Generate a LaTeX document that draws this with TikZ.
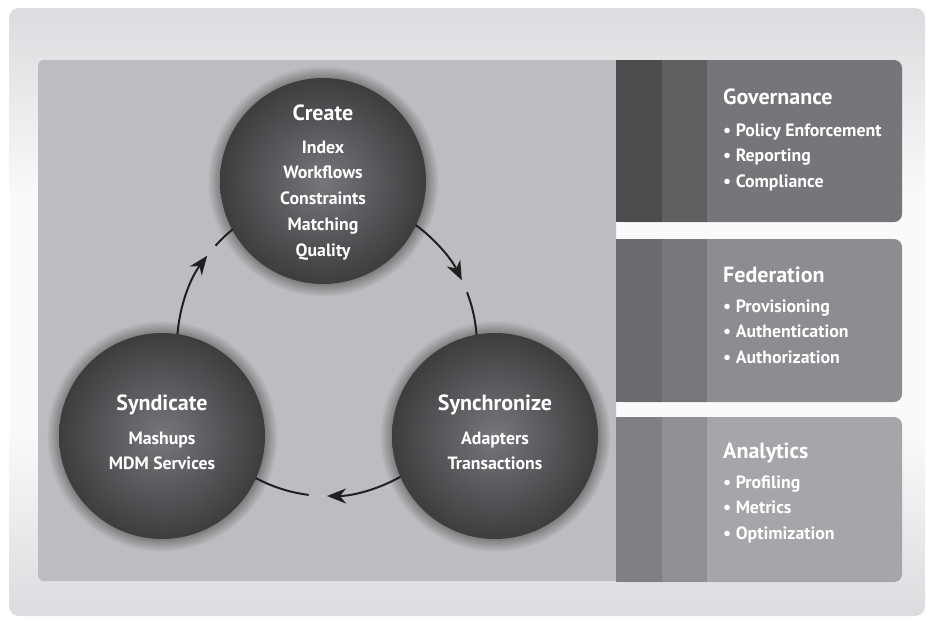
\documentclass[tikz,border=0pt]{standalone}
\usepackage{fontspec}
\setmainfont{PT Sans}
\usetikzlibrary{arrows.meta,shadows}

\definecolor{bgedge}{HTML}{DBDCDF}
\definecolor{bgmid}{HTML}{FAFAFA}
\definecolor{panel}{HTML}{BCBDC0}
\definecolor{ballin}{HTML}{76777A}
\definecolor{ballout}{HTML}{3C3D3F}
\definecolor{ink}{HTML}{231F20}
\definecolor{govA}{HTML}{4B4C4E}
\definecolor{govB}{HTML}{5F6062}
\definecolor{govC}{HTML}{75767A}
\definecolor{fedA}{HTML}{6A6B6E}
\definecolor{fedB}{HTML}{77787B}
\definecolor{fedC}{HTML}{8C8D90}
\definecolor{anaA}{HTML}{7F8083}
\definecolor{anaB}{HTML}{8F9093}
\definecolor{anaC}{HTML}{A5A6A9}

\begin{document}
\begin{tikzpicture}[x=1pt,y=-1pt,
    stage/.style={circle, minimum size=206pt, inner sep=0pt,
        inner color=ballin, outer color=ballout,
        circular drop shadow={shadow xshift=0pt, shadow yshift=0pt,
            shadow scale=1.12, opacity=.75, fill=black!70}},
    head/.style={text=white, inner sep=0pt, font=\bfseries\fontsize{22}{25}\selectfont},
    entry/.style={text=white, inner sep=0pt, font=\bfseries\fontsize{17.8}{20}\selectfont},
    link/.style={ink, line width=2pt},
    flow/.style={-{Stealth[length=19pt,width=15pt,inset=6pt]}}]
    \useasboundingbox (0,0) rectangle (929,621);

    % backdrop: light in the middle, greyer towards top and bottom
    \begin{scope}
        \clip[rounded corners=10pt] (9,8) rectangle (925,616);
        \fill[bgmid] (9,8) rectangle (925,616);
        \shade[top color=bgedge, bottom color=bgmid] (9,8) rectangle (925,200);
        \shade[top color=bgmid, bottom color=bgedge] (9,430) rectangle (925,616);
    \end{scope}

    % left panel
    \begin{scope}
        \clip (0,0) rectangle (616,621);
        \fill[panel, rounded corners=6pt] (38,60) rectangle (650,581);
    \end{scope}

    % side panels
    \fill[govC, rounded corners=8pt] (616,60) rectangle (902,222);
    \fill[govA] (616,60) rectangle (662,222);
    \fill[govB] (662,60) rectangle (707,222);
    \node[head, anchor=base west] (governance) at (723,104) {Governance};
    \foreach \t [count=\i] in {Policy Enforcement, Reporting, Compliance}
        \node[entry, anchor=base west] (governance-\i) at (723,{110.5+25.5*\i}) {\textbullet\ \t};

    \fill[fedC, rounded corners=8pt] (616,239) rectangle (902,402);
    \fill[fedA] (616,239) rectangle (662,402);
    \fill[fedB] (662,239) rectangle (707,402);
    \node[head, anchor=base west] (federation) at (723,282) {Federation};
    \foreach \t [count=\i] in {Provisioning, Authentication, Authorization}
        \node[entry, anchor=base west] (federation-\i) at (723,{286.5+25.5*\i}) {\textbullet\ \t};

    \fill[anaC, rounded corners=8pt] (616,417) rectangle (902,582);
    \fill[anaA] (616,417) rectangle (662,582);
    \fill[anaB] (662,417) rectangle (707,582);
    \node[head, anchor=base west] (analytics) at (723,458) {Analytics};
    \foreach \t [count=\i] in {Profiling, Metrics, Optimization}
        \node[entry, anchor=base west] (analytics-\i) at (723,{462.5+25.5*\i}) {\textbullet\ \t};

    % the three stages
    \node[stage] (create) at (323,181) {};
    \node[stage] (syndicate) at (162,436) {};
    \node[stage] (synchronize) at (495,436) {};

    \node[head, anchor=base] (create-title) at (323,120) {Create};
    \foreach \t [count=\i] in {Index, Workflows, Constraints, Matching, Quality}
        \node[entry, anchor=base] (create-\i) at (323,{127.25+25.75*\i}) {\t};

    \node[head, anchor=base] (syndicate-title) at (162,410) {Syndicate};
    \foreach \t [count=\i] in {Mashups, MDM Services}
        \node[entry, anchor=base] (syndicate-\i) at (162,{418.5+25.5*\i}) {\t};

    \node[head, anchor=base] (synchronize-title) at (495,410) {Synchronize};
    \foreach \t [count=\i] in {Adapters, Transactions}
        \node[entry, anchor=base] (synchronize-\i) at (495,{418.5+25.5*\i}) {\t};

    % cycle arrows on a ring round the hub
    \coordinate (hub) at (327,346);
    \draw[link, flow] ([shift={(-53.8:150)}]hub) arc[start angle=-53.8, end angle=-26, radius=150];
    \draw[link] ([shift={(-21:150)}]hub) arc[start angle=-21, end angle=-4.3, radius=150];
    \draw[link, flow] ([shift={(60.7:150)}]hub) arc[start angle=60.7, end angle=90, radius=150];
    \draw[link] ([shift={(97:150)}]hub) arc[start angle=97, end angle=118.3, radius=150];
    \draw[link, flow] ([shift={(-175.5:150)}]hub) arc[start angle=-175.5, end angle=-143, radius=150];
    \draw[link] ([shift={(-138:150)}]hub) arc[start angle=-138, end angle=-129, radius=150];
\end{tikzpicture}
\end{document}
